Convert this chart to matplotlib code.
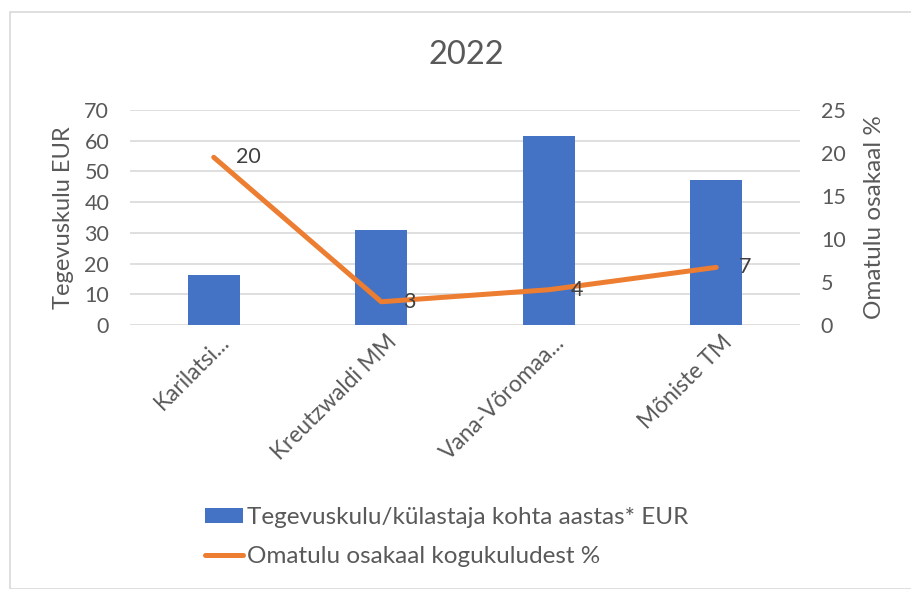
import matplotlib
matplotlib.use("Agg")
import matplotlib.pyplot as plt
from matplotlib.patches import Rectangle, Patch
from matplotlib.lines import Line2D

plt.rcParams['font.family'] = ['Lato', 'DejaVu Sans']

# data
categories = ['Karilatsi...', 'Kreutzwaldi MM', 'Vana-Võromaa...', 'Mõniste TM']
kulu = [16.3, 30.8, 61.4, 47.1]          # Tegevuskulu/külastaja kohta aastas* EUR
omatulu = [19.5, 2.7, 4.1, 6.7]          # Omatulu osakaal kogukuludest %
omatulu_labels = ['20', '3', '4', '7']

blue = '#4472C4'
orange = '#ED7D31'
grey = '#595959'

fig = plt.figure(figsize=(9.11, 5.89), dpi=100)
W, H = 911, 589

# chart frame
fig.patches.append(Rectangle((10 / W, 0), 1.0, 1 - 12 / H, transform=fig.transFigure,
                             fill=False, edgecolor='#D9D9D9', linewidth=1.2))

ax = fig.add_axes([130 / W, (H - 325) / H, 670 / W, 215 / H])
ax2 = ax.twinx()

x = range(len(categories))
ax.bar(x, kulu, width=0.31, color=blue, zorder=2)
ax.set_xlim(-0.5, len(categories) - 0.5)
ax.set_ylim(0, 70)
ax.set_yticks(range(0, 71, 10))
ax.grid(axis='y', color='#D9D9D9', linewidth=1.2, zorder=0)
ax.set_axisbelow(True)

ax2.plot(x, omatulu, color=orange, linewidth=3.6, solid_capstyle='round', zorder=3)
ax2.set_ylim(0, 25)
ax2.set_yticks(range(0, 26, 5))
for xi, yi, lab in zip(x, omatulu, omatulu_labels):
    ax2.annotate(lab, (xi, yi), xytext=(16, 0), textcoords='offset points',
                 ha='left', va='center', fontsize=15.5, color='#404040')

for a in (ax, ax2):
    for s in a.spines.values():
        s.set_visible(False)
    a.tick_params(length=0, labelsize=15.5, labelcolor=grey, pad=15)

# category labels, rotated like Excel
ax.set_xticks(list(x))
ax.set_xticklabels([])
for xi, cat in zip(x, categories):
    ax.annotate(cat, (xi, 0), xycoords=('data', 'axes fraction'),
                xytext=(9, -10), textcoords='offset points', rotation=45,
                ha='right', va='center', rotation_mode='anchor',
                fontsize=16.3, color=grey)

ax.set_ylabel('Tegevuskulu EUR', fontsize=17, color=grey, labelpad=7.5)
ax2.set_ylabel('Omatulu osakaal %', fontsize=17.5, color=grey, labelpad=13)

fig.text(466 / W, 1 - 55 / H, '2022', ha='center', va='center', fontsize=23.5, color=grey)

handles = [Patch(facecolor=blue, edgecolor='none'),
           Line2D([0], [0], color=orange, linewidth=3.6, solid_capstyle='round')]
labels = ['Tegevuskulu/külastaja kohta aastas* EUR', 'Omatulu osakaal kogukuludest %']
fig.legend(handles, labels, loc='center left', bbox_to_anchor=(205 / W, 1 - 537 / H),
           frameon=False, fontsize=17.5, labelcolor=grey, handlelength=1.55,
           handleheight=0.6, handletextpad=0.18, labelspacing=0.75, borderpad=0,
           borderaxespad=0)

fig.savefig('out.png', dpi=100)
